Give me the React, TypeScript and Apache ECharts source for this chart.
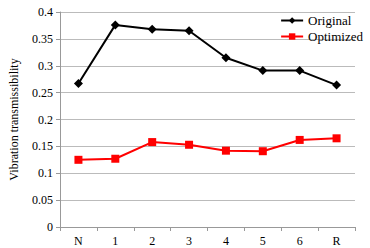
import React, { useEffect, useRef } from "react";
import * as echarts from "echarts";

const categories = ["N", "1", "2", "3", "4", "5", "6", "R"];
const original = [0.267, 0.376, 0.368, 0.365, 0.315, 0.291, 0.291, 0.264];
const optimized = [0.125, 0.127, 0.158, 0.153, 0.142, 0.141, 0.162, 0.165];

const FONT = "Liberation Serif";

export default function App() {
  const ref = useRef<HTMLDivElement>(null);
  useEffect(() => {
    const chart = echarts.init(ref.current!, null, { renderer: "svg" });
    chart.setOption({
      animation: false,
      backgroundColor: "#fff",
      textStyle: { fontFamily: FONT },
      grid: { left: 55, right: 15, top: 12, bottom: 21 },
      legend: {
        right: 2,
        top: 9,
        orient: "vertical",
        itemWidth: 22,
        itemHeight: 8,
        itemGap: 3,
        textStyle: { fontFamily: FONT, fontSize: 13, color: "#000" },
        data: ["Original", "Optimized"],
      },
      xAxis: {
        type: "category",
        data: categories,
        boundaryGap: true,
        axisLine: { lineStyle: { color: "#999" } },
        axisTick: { show: true, alignWithLabel: false, length: 4, lineStyle: { color: "#999" } },
        axisLabel: { color: "#000", fontFamily: FONT, fontSize: 12, margin: 8 },
      },
      yAxis: {
        type: "value",
        min: 0,
        max: 0.4,
        interval: 0.05,
        name: "Vibration transmissibility",
        nameLocation: "middle",
        nameGap: 40,
        nameTextStyle: { color: "#000", fontFamily: FONT, fontSize: 12 },
        axisLine: { show: true, lineStyle: { color: "#999" } },
        axisTick: { show: true, length: 4, lineStyle: { color: "#999" } },
        axisLabel: { color: "#000", fontFamily: FONT, fontSize: 12, margin: 7 },
        splitLine: { lineStyle: { color: "#bbb" } },
      },
      series: [
        {
          name: "Original",
          type: "line",
          data: original,
          symbol: "diamond",
          symbolSize: 9,
          lineStyle: { color: "#000", width: 2 },
          itemStyle: { color: "#000" },
        },
        {
          name: "Optimized",
          type: "line",
          data: optimized,
          symbol: "rect",
          symbolSize: 8,
          lineStyle: { color: "#f00", width: 2 },
          itemStyle: { color: "#f00" },
        },
      ],
    });
    return () => chart.dispose();
  }, []);
  return <div ref={ref} style={{ width: 370, height: 248, position: "absolute", left: 0, top: 0 }} />;
}
